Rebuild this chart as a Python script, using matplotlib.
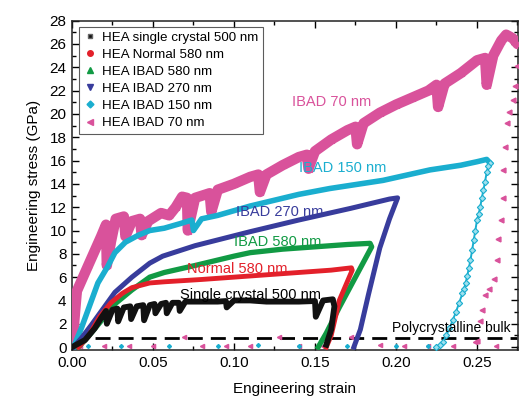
import matplotlib
matplotlib.use("Agg")
import matplotlib.pyplot as plt
from matplotlib.lines import Line2D
from matplotlib.ticker import MultipleLocator, FormatStrFormatter

plt.rcParams['font.family'] = ['Liberation Sans', 'DejaVu Sans']

# ---------------- data ----------------
sc_strain = [0.0, 0.008, 0.014, 0.018, 0.021, 0.0215, 0.025, 0.028, 0.0285, 0.032, 0.036, 0.0365,
             0.040, 0.044, 0.0445, 0.048, 0.051, 0.0515, 0.055, 0.058, 0.0585, 0.062, 0.066, 0.0665,
             0.070, 0.080, 0.090, 0.095, 0.0955, 0.100, 0.110, 0.120, 0.130, 0.140, 0.150, 0.1505,
             0.155, 0.161, 0.162, 0.160, 0.157]
sc_stress = [0.0, 0.6, 1.6, 2.5, 3.1, 2.0, 3.2, 3.3, 2.2, 3.4, 3.5, 2.4,
             3.5, 3.6, 2.3, 3.6, 3.7, 2.9, 3.7, 3.8, 2.9, 3.8, 3.8, 3.1,
             3.9, 3.9, 3.9, 3.95, 3.4, 4.0, 4.0, 3.9, 3.9, 3.9, 3.95, 2.6,
             4.0, 4.1, 3.5, 1.5, 0.2]

n580_strain = [0.004, 0.010, 0.017, 0.024, 0.031, 0.037, 0.048, 0.057, 0.080, 0.100, 0.120, 0.140,
               0.160, 0.1725, 0.173, 0.165, 0.160, 0.157]
n580_stress = [0.0, 0.9, 2.6, 3.8, 4.6, 5.1, 5.5, 5.6, 5.8, 6.0, 6.2, 6.4,
               6.6, 6.8, 6.6, 4.0, 1.0, 0.0]

i580_strain = [0.004, 0.010, 0.016, 0.0265, 0.037, 0.048, 0.057, 0.076, 0.100, 0.110, 0.130, 0.150,
               0.170, 0.184, 0.185, 0.175, 0.165, 0.157, 0.152]
i580_stress = [0.0, 0.9, 1.9, 3.7, 4.9, 6.0, 6.4, 7.0, 7.8, 8.1, 8.4, 8.6,
               8.8, 8.9, 8.6, 6.0, 3.4, 1.2, 0.0]

i270_strain = [0.001, 0.006, 0.012, 0.0265, 0.037, 0.048, 0.056, 0.076, 0.110, 0.140, 0.172, 0.196,
               0.201, 0.196, 0.190, 0.183, 0.178, 0.174]
i270_stress = [0.0, 0.8, 1.9, 4.7, 6.0, 7.2, 7.8, 8.7, 9.9, 10.9, 11.9, 12.7,
               12.8, 11.0, 8.5, 4.5, 1.5, 0.0]

i150_strain = [0.001, 0.006, 0.016, 0.022, 0.0265, 0.033, 0.041, 0.048, 0.057, 0.067, 0.074, 0.075,
               0.080, 0.090, 0.110, 0.140, 0.159, 0.192, 0.221, 0.240, 0.250, 0.256, 0.258]
i150_stress = [0.0, 1.7, 5.5, 6.9, 8.1, 9.0, 9.6, 10.0, 10.2, 10.6, 10.9, 10.0,
               11.0, 11.3, 12.1, 13.1, 13.6, 14.3, 15.2, 15.6, 15.9, 16.1, 15.8]
i150_unl_strain = [0.258, 0.257, 0.256, 0.255, 0.254, 0.253, 0.252, 0.251, 0.250, 0.249, 0.248,
                   0.247, 0.246, 0.245, 0.244, 0.243, 0.242, 0.241, 0.239, 0.237, 0.235, 0.233,
                   0.231, 0.229, 0.227, 0.225]
i150_unl_stress = [15.8, 15.5, 15.0, 14.2, 13.5, 12.8, 12.0, 11.4, 10.9, 10.0, 9.2,
                   8.3, 7.5, 6.8, 6.1, 5.5, 5.0, 4.6, 3.8, 3.0, 2.3, 1.6,
                   1.0, 0.4, 0.15, 0.0]

i70_strain = [0.000, 0.001, 0.002, 0.003, 0.010, 0.018, 0.021, 0.0215, 0.024, 0.027, 0.032, 0.033,
              0.037, 0.042, 0.043, 0.047, 0.055, 0.060, 0.064, 0.068, 0.071, 0.0715, 0.076, 0.085,
              0.086, 0.090, 0.100, 0.110, 0.115, 0.116, 0.120, 0.130, 0.140, 0.145, 0.146, 0.150,
              0.160, 0.170, 0.175, 0.176, 0.180, 0.190, 0.200, 0.210, 0.220, 0.225, 0.226, 0.230,
              0.240, 0.250, 0.255, 0.256, 0.260, 0.265, 0.268, 0.272, 0.275]
i70_stress = [0.3, 1.5, 3.2, 4.8, 7.0, 9.5, 10.5, 7.0, 9.0, 11.0, 11.2, 9.5,
              10.8, 11.0, 9.6, 10.8, 11.5, 11.3, 12.0, 12.9, 12.8, 10.0, 12.8, 13.2,
              11.6, 13.5, 14.0, 14.6, 14.8, 13.3, 14.8, 15.6, 16.3, 16.5, 15.3, 16.8,
              17.8, 18.6, 18.9, 17.4, 19.2, 20.1, 20.8, 21.4, 22.0, 22.5, 20.6, 22.6,
              23.5, 24.6, 24.8, 22.5, 25.0, 26.3, 26.8, 26.5, 26.0]
i70_unl_strain = [0.2745, 0.2735, 0.2724, 0.2700, 0.2683, 0.2673, 0.2662, 0.2658, 0.2646, 0.2632,
                  0.2621, 0.2607, 0.2575, 0.2550, 0.2529, 0.2519, 0.2498]
i70_unl_stress = [24.1, 22.4, 21.2, 20.2, 19.2, 17.2, 15.2, 12.8, 10.9, 9.3,
                  7.5, 5.8, 5.0, 4.5, 3.2, 2.2, 0.5]

base70_strain = [0.005, 0.02, 0.035, 0.05, 0.069, 0.08, 0.095, 0.11, 0.128, 0.14, 0.155, 0.172,
                 0.19, 0.205, 0.22, 0.235, 0.249, 0.262]
base70_stress = [0.05, 0.05, 0.05, 0.05, 0.9, 0.05, 0.05, 0.05, 0.9, 0.05, 0.05, 0.9,
                 0.2, 0.05, 0.05, 0.05, 0.4, 0.05]
base150_strain = [0.01, 0.03, 0.06, 0.09, 0.115, 0.14, 0.17, 0.20, 0.22]
base150_stress = [0.1, 0.05, 0.1, 0.05, 0.15, 0.05, 0.1, 0.05, 0.1]

bulk_strain = [0.0, 0.275]
bulk_stress = [0.8, 0.8]

legend_labels = ["HEA single crystal 500 nm", "HEA Normal 580 nm", "HEA IBAD 580 nm",
                 "HEA IBAD 270 nm", "HEA IBAD 150 nm", "HEA IBAD 70 nm"]

# ---------------- styling ----------------
C_BLACK = "#111111"
C_RED = "#E3202A"
C_GREEN = "#119A44"
C_BLUE = "#383C9C"
C_CYAN = "#1AAECF"
C_MAG = "#D9529B"

fig = plt.figure(figsize=(5.19, 3.97), dpi=100)
ax = fig.add_axes([0.1387, 0.1184, 0.8593, 0.8295])

# polycrystalline bulk
ax.plot(bulk_strain, bulk_stress, color="black", lw=2.0, ls=(0, (5.4, 2.9)), zorder=1)

# base scatter
ax.plot(base70_strain, base70_stress, ls="none", marker="<", ms=3, color=C_MAG, zorder=2)
ax.plot(base150_strain, base150_stress, ls="none", marker="D", ms=2, color=C_CYAN, zorder=2)

# IBAD 70 nm
ax.plot(i70_strain, i70_stress, color=C_MAG, lw=7.5, solid_joinstyle="round",
        solid_capstyle="round", zorder=3)
ax.plot(i70_strain, i70_stress, ls="none", marker="<", ms=4, color=C_MAG, zorder=3)
ax.plot(i70_unl_strain, i70_unl_stress, ls="none", marker="<", ms=3.5, color=C_MAG, zorder=3)

# IBAD 150 nm
ax.plot(i150_strain, i150_stress, color=C_CYAN, lw=4.0, solid_joinstyle="round", zorder=4)
ax.plot(i150_unl_strain, i150_unl_stress, color=C_CYAN, lw=1.4, marker="D", ms=3.2,
        mfc="#9FE0EE", mec=C_CYAN, mew=0.8, zorder=4)

# IBAD 270 nm
ax.plot(i270_strain, i270_stress, color=C_BLUE, lw=3.6, solid_joinstyle="round", zorder=5)

# IBAD 580 nm
ax.plot(i580_strain, i580_stress, color=C_GREEN, lw=3.8, solid_joinstyle="round", zorder=6)

# Normal 580 nm
ax.plot(n580_strain, n580_stress, color=C_RED, lw=3.5, solid_joinstyle="round", zorder=7)

# single crystal
ax.plot(sc_strain, sc_stress, color=C_BLACK, lw=4.2, solid_joinstyle="round", zorder=8)

# in-plot labels
tfs = 10.5
ax.text(0.160, 21.0, "IBAD 70 nm", color=C_MAG, fontsize=tfs, ha="center", va="center")
ax.text(0.167, 15.35, "IBAD 150 nm", color=C_CYAN, fontsize=tfs, ha="center", va="center", zorder=10)
ax.text(0.128, 11.6, "IBAD 270 nm", color=C_BLUE, fontsize=tfs, ha="center", va="center", zorder=10)
ax.text(0.127, 9.0, "IBAD 580 nm", color=C_GREEN, fontsize=tfs, ha="center", va="center", zorder=10)
ax.text(0.102, 6.7, "Normal 580 nm", color=C_RED, fontsize=tfs, ha="center", va="center", zorder=10)
ax.text(0.110, 4.5, "Single crystal 500 nm", color="black", fontsize=tfs, ha="center", va="center", zorder=10)
ax.text(0.2705, 1.6, "Polycrystalline bulk", color="black", fontsize=10, ha="right", va="center", zorder=10)

# legend
handles = [
    Line2D([], [], ls="none", marker="s", ms=3.5, color=C_BLACK, mec="#666666"),
    Line2D([], [], ls="none", marker="o", ms=4, color=C_RED),
    Line2D([], [], ls="none", marker="^", ms=4, color=C_GREEN),
    Line2D([], [], ls="none", marker="v", ms=4, color=C_BLUE),
    Line2D([], [], ls="none", marker="D", ms=3.5, color=C_CYAN),
    Line2D([], [], ls="none", marker="<", ms=4, color=C_MAG),
]
leg = ax.legend(handles, legend_labels, loc="upper left", bbox_to_anchor=(0.016, 0.982),
                borderaxespad=0, fontsize=9.6, frameon=True, fancybox=False,
                handlelength=0.9, handletextpad=0.5, labelspacing=0.36, borderpad=0.35)
leg.get_frame().set_edgecolor("#333333")
leg.get_frame().set_linewidth(0.8)
leg.set_zorder(20)

# axes
ax.set_xlim(0, 0.2753)
ax.set_ylim(-0.25, 28)
ax.xaxis.set_major_locator(MultipleLocator(0.05))
ax.xaxis.set_minor_locator(MultipleLocator(0.025))
ax.yaxis.set_major_locator(MultipleLocator(2))
ax.yaxis.set_minor_locator(MultipleLocator(1))
ax.xaxis.set_major_formatter(FormatStrFormatter("%.2f"))
ax.tick_params(which="both", direction="in", top=True, right=True, labelsize=11, width=1.0)
ax.tick_params(which="major", length=5, pad=4)
ax.tick_params(which="minor", length=3)
for s in ax.spines.values():
    s.set_linewidth(1.1)
    s.set_color("#222222")
ax.set_xlabel("Engineering strain", fontsize=11, labelpad=9)
ax.set_ylabel("Engineering stress (GPa)", fontsize=11, labelpad=6)

fig.savefig("out.png", dpi=100)
